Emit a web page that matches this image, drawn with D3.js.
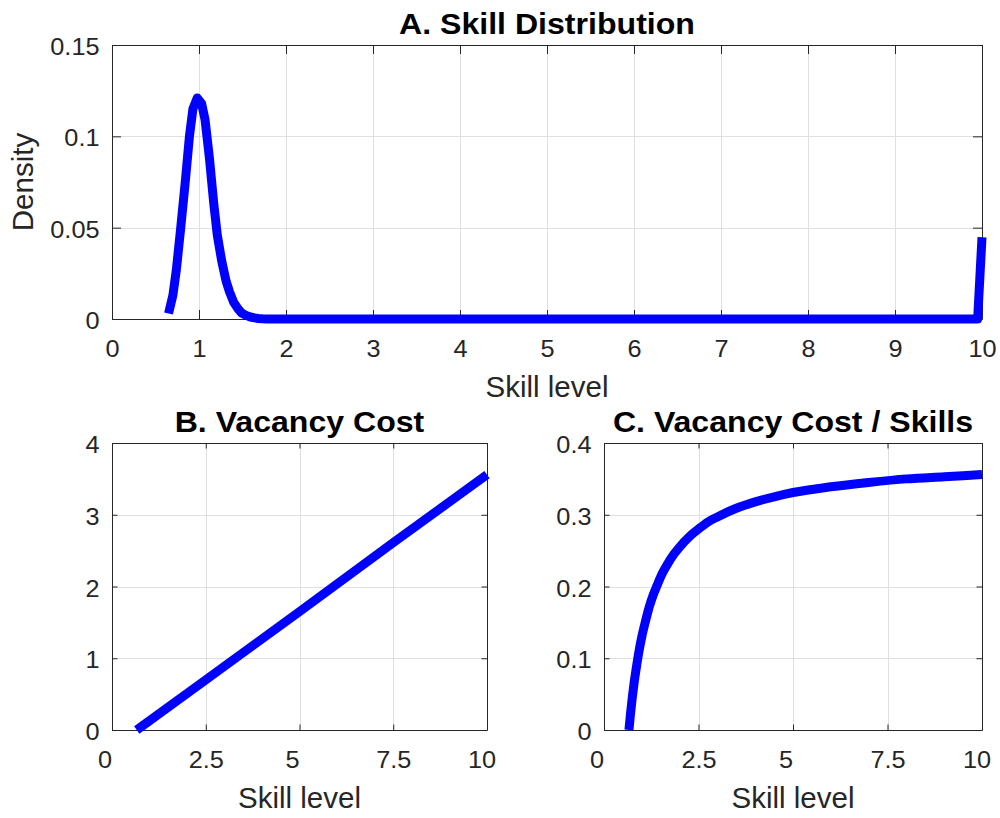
<!DOCTYPE html>
<html><head><meta charset="utf-8">
<script src="https://cdn.jsdelivr.net/npm/d3@7"></script>
<style>body{margin:0;background:#fff} svg{display:block}</style>
</head><body>
<svg id="chart" width="1000" height="818"></svg>
<script>
// ---------- Panel A: Skill Distribution ----------
const skillA = [0.65,0.70,0.74,0.79,0.84,0.89,0.93,0.98,1.03,1.07,1.12,1.17,1.21,1.26,1.31,1.35,1.40,1.45,1.49,1.54,1.59,1.64,1.68,1.73,1.78,2,3,4,5,6,7,8,9,9.95,10];
const densityA = [0.003,0.013,0.027,0.050,0.074,0.100,0.115,0.121,0.118,0.109,0.088,0.063,0.046,0.032,0.021,0.015,0.009,0.0055,0.0033,0.002,0.0011,0.0006,0.0003,0.0001,0,0,0,0,0,0,0,0,0,0,0.0447];
const xTicksA = [0,1,2,3,4,5,6,7,8,9,10];
const xTickLabelsA = ["0","1","2","3","4","5","6","7","8","9","10"];
const yTicksA = [0,0.05,0.1,0.15];
const yTickLabelsA = ["0","0.05","0.1","0.15"];

// ---------- Panel B: Vacancy Cost ----------
const skillB = [0.66,2.5,5,7.5,10];
const costB = [0,0.70,1.65,2.61,3.56];
const xTicksBC = [0,2.5,5,7.5,10];
const xTickLabelsBC = ["0","2.5","5","7.5","10"];
const yTicksB = [0,1,2,3,4];
const yTickLabelsB = ["0","1","2","3","4"];

// ---------- Panel C: Vacancy Cost / Skills ----------
const skillC = [0.66,0.70,0.75,0.80,0.85,0.92,1.0,1.1,1.2,1.3,1.4,1.55,1.7,1.85,2.0,2.25,2.5,2.75,3,3.5,4,4.5,5,6,7,8,9,10];
const ratioC = [0,0.022,0.046,0.067,0.085,0.108,0.130,0.152,0.172,0.188,0.201,0.219,0.233,0.245,0.255,0.269,0.280,0.290,0.297,0.309,0.318,0.325,0.331,0.339,0.345,0.350,0.353,0.356];
const yTicksC = [0,0.1,0.2,0.3,0.4];
const yTickLabelsC = ["0","0.1","0.2","0.3","0.4"];

const titles = ["A. Skill Distribution","B. Vacancy Cost","C. Vacancy Cost / Skills"];
const xLabel = "Skill level";
const yLabelA = "Density";

const svg = d3.select("#chart");
const FONT = "'Liberation Sans', Arial, Helvetica, sans-serif";
const AX = "#262626", GRID = "#dfdfdf", BLUE = "#0000ff";
const TICK_FS = 23, TICK_SX = 1.1, LABEL_FS = 29.5, TITLE_FS = 30, TITLE_SX = 1.07;

function panel(o) {
  const x = d3.scaleLinear().domain(o.xDomain).range([o.left, o.right]);
  const y = d3.scaleLinear().domain(o.yDomain).range([o.bottom, o.top]);
  const g = svg.append("g");

  // grid
  const gx = o.xTicks.filter(v => v > o.xDomain[0] && v < o.xDomain[1]);
  const gy = o.yTicks.filter(v => v > o.yDomain[0] && v < o.yDomain[1]);
  g.append("g").selectAll("line").data(gx).join("line")
    .attr("x1", d => Math.round(x(d)) + 0.5).attr("x2", d => Math.round(x(d)) + 0.5)
    .attr("y1", o.top).attr("y2", o.bottom).attr("stroke", GRID).attr("stroke-width", 1);
  g.append("g").selectAll("line").data(gy).join("line")
    .attr("y1", d => Math.round(y(d)) + 0.5).attr("y2", d => Math.round(y(d)) + 0.5)
    .attr("x1", o.left).attr("x2", o.right).attr("stroke", GRID).attr("stroke-width", 1);

  const tl = o.tickLen;
  // bottom axis
  const ab = g.append("g").attr("transform", `translate(0,${o.bottom})`)
    .call(d3.axisBottom(x).tickValues(o.xTicks).tickFormat((d, i) => o.xLabels[i]).tickSizeInner(-tl).tickSizeOuter(0));
  ab.selectAll("text")
    .attr("y", 38.5).attr("dy", null).attr("x", 0)
    .attr("transform", function(d, i) {
      const lab = o.xLabels[i];
      const dx = (o.shiftInts && lab.indexOf(".") < 0) ? (lab.length > 1 ? -5.5 : -7.5) : 0;
      return `translate(${dx},0) scale(${TICK_SX},1)`;
    });
  // top axis
  g.append("g").attr("transform", `translate(0,${o.top})`)
    .call(d3.axisTop(x).tickValues(o.xTicks).tickFormat("").tickSizeInner(-tl).tickSizeOuter(0));
  // left axis
  const al = g.append("g").attr("transform", `translate(${o.left},0)`)
    .call(d3.axisLeft(y).tickValues(o.yTicks).tickFormat((d, i) => o.yLabels[i]).tickSizeInner(-tl).tickSizeOuter(0));
  al.selectAll("text")
    .attr("x", 0).attr("dy", null).attr("y", 9.5)
    .attr("transform", `translate(-12.5,0) scale(${TICK_SX},1)`);
  // right axis
  g.append("g").attr("transform", `translate(${o.right},0)`)
    .call(d3.axisRight(y).tickValues(o.yTicks).tickFormat("").tickSizeInner(-tl).tickSizeOuter(0));

  g.selectAll(".domain, .tick line").attr("stroke", AX).attr("stroke-width", 1);
  g.selectAll(".tick text").attr("fill", AX).attr("font-size", TICK_FS).attr("font-family", FONT);

  // title
  g.append("text")
    .attr("transform", `translate(${(o.left + o.right) / 2},${o.top - 11.5}) scale(${TITLE_SX},1)`)
    .attr("text-anchor", "middle").attr("font-family", FONT).attr("font-weight", "bold")
    .attr("font-size", TITLE_FS).attr("fill", "#000").text(o.title);
  // x label
  g.append("text").attr("x", (o.left + o.right) / 2).attr("y", o.bottom + 78)
    .attr("text-anchor", "middle").attr("font-family", FONT)
    .attr("font-size", LABEL_FS).attr("fill", AX).text(xLabel);
  // y label
  if (o.yLabel) {
    g.append("text").attr("transform", `translate(33,${(o.top + o.bottom) / 2}) rotate(-90)`)
      .attr("text-anchor", "middle").attr("font-family", FONT)
      .attr("font-size", LABEL_FS).attr("fill", AX).text(o.yLabel);
  }

  // data line
  const line = d3.line().x(d => x(d[0])).y(d => y(d[1])).curve(o.smooth ? d3.curveMonotoneX : d3.curveLinear);
  g.append("path").datum(d3.zip(o.xs, o.ys)).attr("d", line)
    .attr("fill", "none").attr("stroke", BLUE).attr("stroke-width", 9)
    .attr("stroke-linejoin", "round").attr("stroke-linecap", "butt");
}

panel({left:112, right:982, top:45, bottom:319, xDomain:[0,10], yDomain:[0,0.15],
  xTicks:xTicksA, xLabels:xTickLabelsA, yTicks:yTicksA, yLabels:yTickLabelsA,
  tickLen:9, title:titles[0], yLabel:yLabelA, xs:skillA, ys:densityA, shiftInts:false, smooth:false});
panel({left:112, right:487, top:443, bottom:730, xDomain:[0,10], yDomain:[0,4],
  xTicks:xTicksBC, xLabels:xTickLabelsBC, yTicks:yTicksB, yLabels:yTickLabelsB,
  tickLen:5.5, title:titles[1], xs:skillB, ys:costB, shiftInts:true, smooth:false});
panel({left:604, right:982, top:443, bottom:730, xDomain:[0,10], yDomain:[0,0.4],
  xTicks:xTicksBC, xLabels:xTickLabelsBC, yTicks:yTicksC, yLabels:yTickLabelsC,
  tickLen:5.5, title:titles[2], xs:skillC, ys:ratioC, shiftInts:true, smooth:true});
</script>
</body></html>
